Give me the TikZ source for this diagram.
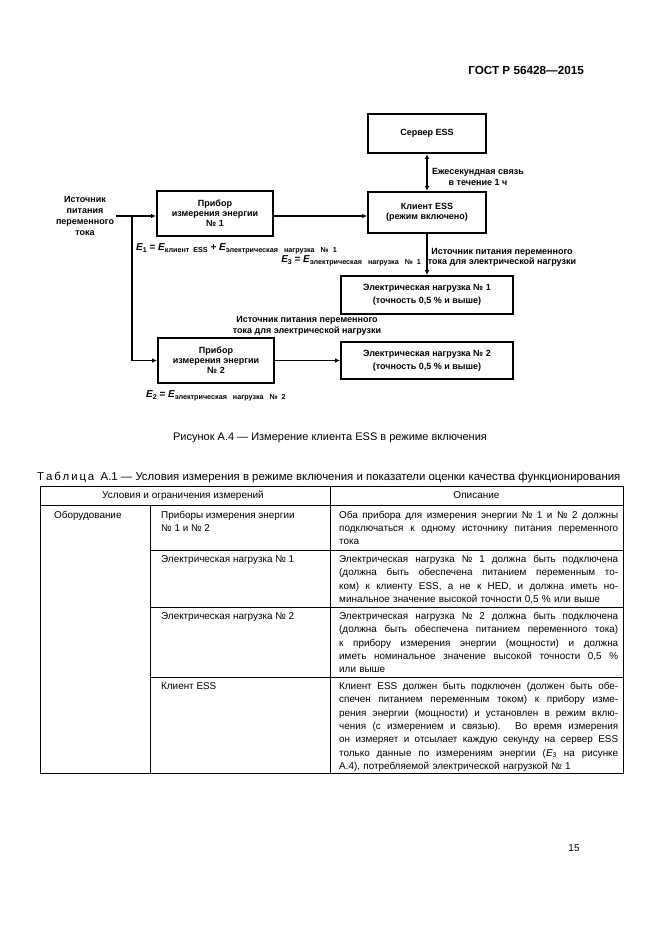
\documentclass[tikz,border=0pt]{standalone}
\usepackage{fontspec}
\setmainfont{Liberation Sans}
\usetikzlibrary{arrows.meta}
\newlength\dw
\setlength\dw{279pt}
\newcommand\jl[1]{{\spaceskip=0pt\xspaceskip=0pt\makebox[\dw][s]{#1}}}
\newcommand\Ebig[1]{{\bfseries\itshape E}\raisebox{-2pt}{\fontsize{7}{8}\selectfont\bfseries #1}}
\newcommand\Esml[1]{{\bfseries\itshape E}\raisebox{-2pt}{\fontsize{7.2}{8}\selectfont\bfseries #1}}
\begin{document}
\begin{tikzpicture}[x=1pt,y=-1pt,
  box/.style={draw, line width=1.8pt, inner sep=1pt, align=center, font=\fontsize{9}{10}\selectfont\bfseries},
  loadbox/.style={box, minimum width=172pt, font=\fontsize{9}{13}\selectfont\bfseries},
  lbl/.style={align=center, inner sep=0pt, font=\fontsize{9}{10.5}\selectfont\bfseries},
  conn/.style={line width=1.4pt},
  arr/.style={conn, -{Latex[length=5pt,width=4.5pt]}},
  darr/.style={conn, {Latex[length=5pt,width=4.5pt]}-{Latex[length=5pt,width=4.5pt]}},
  eq/.style={anchor=base west, inner sep=0pt, font=\fontsize{10}{12}\selectfont\bfseries},
  tline/.style={line width=1pt},
  iline/.style={line width=0.6pt},
  ttext/.style={anchor=north west, inner sep=0pt, align=left, font=\fontsize{9.9}{13.3}\selectfont},
  desc/.style={ttext, text width=\dw}
]
\fill[white] (0,0) rectangle (661,935);
\useasboundingbox (0,0) rectangle (661,935);

% header
\node[anchor=base east, inner sep=0pt, font=\fontsize{11.7}{13}\selectfont\bfseries] (hdr) at (584,74) {ГОСТ Р 56428—2015};

% diagram boxes
\node[box, minimum width=118pt, minimum height=39pt] (server) at (427,133.5) {Сервер ESS};
\node[box, minimum width=118pt, minimum height=41pt] (client) at (427,212.5) {Клиент ESS\\(режим включено)};
\node[box, minimum width=116pt, minimum height=45pt] (meter1) at (215,213.5) {Прибор\\измерения энергии\\№ 1};
\node[box, minimum width=116pt, minimum height=45pt] (meter2) at (216,360.5) {Прибор\\измерения энергии\\№ 2};
\node[loadbox, minimum height=38pt] (load1) at (427,295) {Электрическая нагрузка № 1\\(точность 0,5 \% и выше)};
\node[loadbox, minimum height=37pt] (load2) at (427,360.5) {Электрическая нагрузка № 2\\(точность 0,5 \% и выше)};

% source
\node[lbl, font=\fontsize{9}{10.8}\selectfont\bfseries] (src) at (85,216) {Источник\\питания\\переменного\\тока};
\coordinate (s0) at (116,216);
\coordinate (j1) at (132,216);

% connectors
\draw[conn] (s0) -- (j1);
\draw[arr] (j1) -- (meter1.west |- j1);
\draw[arr] (j1) |- (meter2.west);
\draw[arr] (meter1.east |- j1) -- (client.west |- j1);
\draw[darr] (server.south) -- (client.north);
\draw[arr] (client.south) -- (load1.north);
\draw[arr] (meter2.east) -- (load2.west);

% labels
\node[lbl] (lsc) at (478,177) {Ежесекундная связь\\в течение 1 ч};
\node[lbl] (lcl) at (502,257.5) {Источник питания переменного\\тока для электрической нагрузки};
\node[lbl] (lm2) at (307,326) {Источник питания переменного\\тока для электрической нагрузки};
\node[eq] (e1) at (136,250) {\Ebig{1} = \Esml{клиент\ \ ESS} + \Esml{электрическая\ \ \ нагрузка\ \ \ №\ \ 1}};
\node[eq, anchor=base east] (e3) at (421,262) {\Ebig{3} = \Esml{электрическая\ \ \ нагрузка\ \ \ №\ \ 1}};
\node[eq] (e2) at (146,397) {\Ebig{2} = \Esml{электрическая\ \ \ нагрузка\ \ \ №\ \ 2}};

% caption
\node[inner sep=0pt, font=\fontsize{11}{13}\selectfont] (cap) at (330,438) {Рисунок А.4 — Измерение клиента ESS в режиме включения};

% table title
\node[anchor=base west, inner sep=0pt, font=\fontsize{11.4}{13}\selectfont] (ttl) at (37,480) {Т\,а\,б\,л\,и\,ц\,а\ \ А.1 — Условия измерения в режиме включения и показатели оценки качества функционирования};

% table lines
\draw[tline] (40,486) rectangle (623,773);
\draw[tline] (40,505) -- (623,505);
\draw[iline] (330,486) -- (330,773);
\draw[iline] (150,505) -- (150,773);
\draw[iline] (150,550) -- (623,550);
\draw[iline] (150,607) -- (623,607);
\draw[iline] (150,677) -- (623,677);

% header texts
\node[inner sep=0pt, font=\fontsize{10}{12}\selectfont] (th1) at (183,495.5) {Условия и ограничения измерений};
\node[inner sep=0pt, font=\fontsize{10}{12}\selectfont] (th2) at (476.5,495.5) {Описание};

% column 1
\node[ttext] (c1) at (54,508.5) {\strut Оборудование};
% column 2
\node[ttext] (c2a) at (161,508.5) {\strut Приборы измерения энергии\\№ 1 и № 2};
\node[ttext] (c2b) at (161,553) {\strut Электрическая нагрузка № 1};
\node[ttext] (c2c) at (161,610) {\strut Электрическая нагрузка № 2};
\node[ttext] (c2d) at (161,680) {\strut Клиент ESS};
% column 3
\node[desc] (d1) at (339,508.5) {\strut\jl{Оба прибора для измерения энергии № 1 и № 2 должны}\\
\jl{подключаться к одному источнику питания переменного}\\
тока};
\node[desc] (d2) at (339,553) {\strut\jl{Электрическая нагрузка № 1 должна быть подключена}\\
\jl{(должна быть обеспечена питанием переменным то-}\\
\jl{ком) к клиенту ESS, а не к HED, и должна иметь но-}\\
минальное значение высокой точности 0,5 \% или выше};
\node[desc] (d3) at (339,610) {\strut\jl{Электрическая нагрузка № 2 должна быть подключена}\\
\jl{(должна быть обеспечена питанием переменного тока)}\\
\jl{к прибору измерения энергии (мощности) и должна}\\
\jl{иметь номинальное значение высокой точности 0,5 \%}\\
или выше};
\node[desc] (d4) at (339,680) {\strut\jl{Клиент ESS должен быть подключен (должен быть обе-}\\
\jl{спечен питанием переменным током) к прибору изме-}\\
\jl{рения энергии (мощности) и установлен в режим вклю-}\\
\jl{чения (с измерением и связью). Во время измерения}\\
\jl{он измеряет и отсылает каждую секунду на сервер ESS}\\
\jl{только данные по измерениям энергии (\textit{E}\textsubscript{3} на рисунке}\\
А.4), потребляемой электрической нагрузкой № 1};

% page number
\node[inner sep=0pt, font=\fontsize{10}{12}\selectfont] (pg) at (574,848) {15};
\end{tikzpicture}
\end{document}
